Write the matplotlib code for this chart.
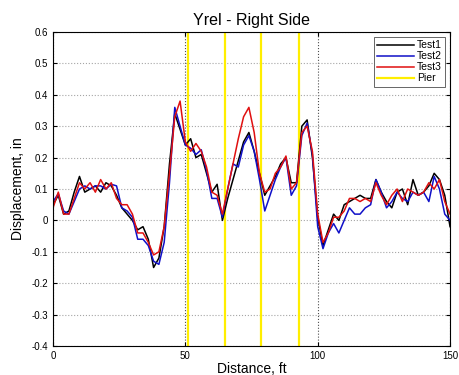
import matplotlib
matplotlib.use('Agg')
import matplotlib.pyplot as plt
import numpy as np

plt.rcParams['font.family'] = ['Liberation Sans', 'DejaVu Sans']

# distance along the span, ft (2 ft stations)
distance = np.arange(0, 151, 2)

test1 = [0.05, 0.08, 0.02, 0.03, 0.09, 0.14, 0.09, 0.10, 0.11, 0.09,
         0.12, 0.11, 0.08, 0.04, 0.02, 0.00, -0.03, -0.02, -0.06, -0.15,
         -0.12, -0.02, 0.18, 0.34, 0.29, 0.24, 0.26, 0.20, 0.21, 0.15,
         0.09, 0.115, 0.00, 0.07, 0.13, 0.19, 0.25, 0.28, 0.22, 0.15,
         0.08, 0.11, 0.14, 0.18, 0.20, 0.12, 0.12, 0.30, 0.32, 0.20,
         0.01, -0.08, -0.03, 0.02, 0.00, 0.05, 0.06, 0.07, 0.08, 0.07,
         0.07, 0.13, 0.09, 0.06, 0.04, 0.09, 0.10, 0.05, 0.13, 0.08,
         0.09, 0.11, 0.15, 0.13, 0.08, -0.02]

test2 = [0.06, 0.085, 0.03, 0.02, 0.06, 0.10, 0.11, 0.10, 0.11, 0.11,
         0.10, 0.115, 0.11, 0.04, 0.03, 0.01, -0.06, -0.06, -0.08, -0.13,
         -0.14, -0.07, 0.12, 0.36, 0.30, 0.24, 0.23, 0.21, 0.225, 0.16,
         0.07, 0.07, 0.01, 0.10, 0.18, 0.17, 0.24, 0.27, 0.22, 0.13,
         0.03, 0.08, 0.13, 0.17, 0.20, 0.08, 0.11, 0.27, 0.31, 0.21,
         -0.02, -0.09, -0.04, -0.01, -0.04, 0.00, 0.04, 0.02, 0.02, 0.04,
         0.05, 0.13, 0.09, 0.04, 0.06, 0.09, 0.07, 0.06, 0.09, 0.08,
         0.09, 0.06, 0.14, 0.10, 0.02, 0.00]

test3 = [0.04, 0.09, 0.02, 0.02, 0.07, 0.12, 0.10, 0.12, 0.09, 0.13,
         0.10, 0.12, 0.07, 0.05, 0.05, 0.02, -0.04, -0.04, -0.07, -0.11,
         -0.10, -0.02, 0.15, 0.33, 0.38, 0.25, 0.22, 0.245, 0.22, 0.17,
         0.09, 0.08, 0.02, 0.10, 0.18, 0.26, 0.33, 0.36, 0.28, 0.15,
         0.09, 0.10, 0.15, 0.17, 0.205, 0.10, 0.12, 0.28, 0.30, 0.22,
         0.02, -0.07, -0.04, 0.01, 0.01, 0.03, 0.07, 0.07, 0.06, 0.07,
         0.06, 0.12, 0.08, 0.05, 0.08, 0.10, 0.06, 0.10, 0.09, 0.08,
         0.09, 0.12, 0.10, 0.13, 0.06, 0.02]

piers = [51, 65, 78.7, 92.8]

fig = plt.figure(figsize=(4.59, 3.75), dpi=100)
ax = fig.add_axes([0.1155, 0.0773, 0.865, 0.8374])

ax.plot(distance, test1, color='black', lw=1.1, label='Test1')
ax.plot(distance, test2, color='#1010c8', lw=1.1, label='Test2')
ax.plot(distance, test3, color='#e01010', lw=1.1, label='Test3')
for i, p in enumerate(piers):
    ax.axvline(p, color='#ffee00', lw=1.6, label='Pier' if i == 0 else None, zorder=1)

ax.set_xlim(0, 150)
ax.set_ylim(-0.4, 0.6)
ax.set_xticks([0, 50, 100, 150])
ax.set_yticks(np.arange(-0.4, 0.61, 0.1))
ax.set_yticklabels(['-0.4', '-0.3', '-0.2', '-0.1', '0', '0.1', '0.2', '0.3', '0.4', '0.5', '0.6'])
ax.tick_params(direction='in', labelsize=7, length=3, top=True, right=True)
ax.grid(axis='x', linestyle=':', color='0.3', lw=0.8)
ax.grid(axis='y', linestyle=':', color='0.65', lw=0.8)
ax.set_axisbelow(True)

ax.set_title('Yrel - Right Side', fontsize=11.5, pad=5)
ax.set_xlabel('Distance, ft', fontsize=10, labelpad=1)
ax.set_ylabel('Displacement, in', fontsize=10, labelpad=5)

leg = ax.legend(loc='upper right', fontsize=7.5, handlelength=3.5, borderpad=0.3,
                labelspacing=0.1, handletextpad=0.3, fancybox=False, framealpha=1)
leg.get_frame().set_edgecolor('0.3')
leg.get_frame().set_linewidth(0.6)

fig.savefig('out.png', dpi=100)
